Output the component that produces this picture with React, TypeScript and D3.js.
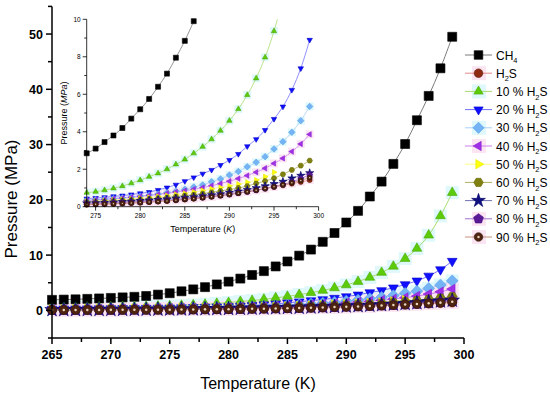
import React from 'react';
import * as d3 from 'd3';

// hydrate equilibrium data
const TEMPS = [265, 266, 267, 268, 269, 270, 271, 272, 273, 274, 275, 276, 277, 278, 279, 280, 281, 282, 283, 284,
  285, 286, 287, 288, 289, 290, 291, 292, 293, 294, 295, 296, 297, 298, 299];

const P_CH4 = [1.90, 1.95, 2.00, 2.08, 2.16, 2.25, 2.35, 2.45, 2.60, 2.85, 3.10, 3.45, 3.80, 4.20, 4.70, 5.20, 5.75, 6.40, 7.10, 7.95,
  8.85, 9.90, 11.0, 12.4, 14.0, 15.9, 18.0, 20.6, 23.3, 26.5, 30.1, 34.4, 38.8, 43.8, 49.5];
const P_H2S = [0.05, 0.05, 0.06, 0.06, 0.07, 0.07, 0.08, 0.09, 0.10, 0.10, 0.12, 0.13, 0.15, 0.17, 0.19, 0.21, 0.24, 0.27, 0.30, 0.34,
  0.38, 0.43, 0.48, 0.54, 0.60, 0.66, 0.73, 0.80, 0.88, 0.96, 1.05, 1.14, 1.23, 1.32, 1.42];
const P_10 = [0.45, 0.48, 0.51, 0.54, 0.57, 0.60, 0.64, 0.67, 0.71, 0.75, 0.80, 0.88, 0.98, 1.10, 1.25, 1.42, 1.60, 1.78, 2.00, 2.26,
  2.52, 2.85, 3.20, 3.60, 4.06, 4.59, 5.21, 5.96, 6.85, 7.97, 9.37, 11.2, 13.6, 17.1, 21.3];
const P_20 = [0.25, 0.27, 0.28, 0.30, 0.32, 0.34, 0.36, 0.38, 0.40, 0.43, 0.46, 0.50, 0.55, 0.59, 0.65, 0.71, 0.78, 0.89, 1.02, 1.17,
  1.36, 1.56, 1.76, 1.96, 2.22, 2.49, 2.81, 3.22, 3.60, 4.09, 4.68, 5.34, 6.23, 7.38, 8.90];
const P_30 = [0.20, 0.21, 0.22, 0.24, 0.25, 0.27, 0.29, 0.31, 0.33, 0.35, 0.38, 0.41, 0.44, 0.48, 0.52, 0.57, 0.62, 0.68, 0.75, 0.83,
  0.93, 1.05, 1.16, 1.33, 1.48, 1.69, 1.88, 2.13, 2.37, 2.67, 3.08, 3.47, 3.97, 4.59, 5.35];
const P_40 = [0.18, 0.19, 0.20, 0.21, 0.23, 0.24, 0.26, 0.28, 0.30, 0.33, 0.36, 0.39, 0.42, 0.46, 0.50, 0.55, 0.60, 0.65, 0.71, 0.78,
  0.85, 0.93, 1.02, 1.12, 1.23, 1.36, 1.50, 1.66, 1.84, 2.05, 2.31, 2.58, 2.94, 3.35, 3.86];
const P_50 = [0.15, 0.16, 0.17, 0.18, 0.19, 0.20, 0.22, 0.23, 0.25, 0.27, 0.29, 0.32, 0.35, 0.38, 0.41, 0.45, 0.49, 0.54, 0.59, 0.65,
  0.71, 0.78, 0.86, 0.95, 1.02, 1.10, 1.20, 1.30, 1.42, 1.60, 1.84];
const P_60 = [0.12, 0.13, 0.14, 0.15, 0.16, 0.17, 0.18, 0.20, 0.21, 0.23, 0.25, 0.27, 0.29, 0.32, 0.35, 0.38, 0.41, 0.45, 0.49, 0.54,
  0.59, 0.64, 0.70, 0.77, 0.84, 0.92, 1.00, 1.10, 1.24, 1.37, 1.52, 1.73, 1.96, 2.19, 2.46];
const P_70 = [0.10, 0.11, 0.11, 0.12, 0.13, 0.14, 0.15, 0.16, 0.17, 0.19, 0.20, 0.22, 0.24, 0.26, 0.28, 0.31, 0.34, 0.37, 0.40, 0.44,
  0.48, 0.52, 0.57, 0.62, 0.68, 0.75, 0.82, 0.90, 1.00, 1.10, 1.22, 1.34, 1.52, 1.66, 1.80];
const P_80 = [0.08, 0.09, 0.09, 0.10, 0.11, 0.11, 0.12, 0.13, 0.14, 0.15, 0.17, 0.18, 0.20, 0.22, 0.24, 0.26, 0.29, 0.32, 0.35, 0.38,
  0.42, 0.46, 0.50, 0.55, 0.60, 0.66, 0.73, 0.80, 0.88, 0.97, 1.07, 1.18, 1.32, 1.50, 1.70];
const P_90 = [0.06, 0.07, 0.07, 0.08, 0.08, 0.09, 0.10, 0.10, 0.11, 0.12, 0.13, 0.15, 0.16, 0.18, 0.20, 0.22, 0.25, 0.28, 0.31, 0.35,
  0.39, 0.43, 0.48, 0.53, 0.59, 0.65, 0.72, 0.80, 0.88, 0.97, 1.07, 1.17, 1.28, 1.40, 1.55];

const SERIES_KEYS = ['ch4', 'h2s', 'p10', 'p20', 'p30', 'p40', 'p50', 'p60', 'p70', 'p80', 'p90'];
const SERIES_VALUES = [P_CH4, P_H2S, P_10, P_20, P_30, P_40, P_50, P_60, P_70, P_80, P_90];
// [prefix, subscript, suffix]
const LEGEND_LABELS = [['CH', '4', ''], ['H', '2', 'S'], ['10 % H', '2', 'S'], ['20 % H', '2', 'S'], ['30 % H', '2', 'S'],
  ['40 % H', '2', 'S'], ['50 % H', '2', 'S'], ['60 % H', '2', 'S'], ['70 % H', '2', 'S'], ['80 % H', '2', 'S'], ['90 % H', '2', 'S']];

const X_TICKS = [265, 270, 275, 280, 285, 290, 295, 300];
const Y_TICKS = [0, 10, 20, 30, 40, 50];
const IX_TICKS = [275, 280, 285, 290, 295, 300];
const IY_TICKS = [0, 2, 4, 6, 8, 10];

const PINK = '#fbe5f2', CYAN = '#def8fb';
const STYLE: any = {
  ch4: { shape: 'square', fill: '#000', stroke: '#000', line: '#7a7a7a' },
  h2s: { shape: 'circle', fill: '#8e2a12', stroke: '#5e1a08', line: '#e48a8a', halo: PINK },
  p10: { shape: 'up', fill: '#5ccc0a', stroke: '#4aa808', line: '#a8dc70', halo: CYAN },
  p20: { shape: 'down', fill: '#1010ff', stroke: '#0000cc', line: '#7070ff' },
  p30: { shape: 'diamond', fill: '#74b4f4', stroke: '#5aa0e8', line: '#a8d0f8', halo: CYAN },
  p40: { shape: 'left', fill: '#a030e8', stroke: '#8a20d0', line: '#d080f0', halo: PINK },
  p50: { shape: 'right', fill: '#ffff10', stroke: '#e8e800', line: '#ffff80' },
  p60: { shape: 'hex', fill: '#808010', stroke: '#666600', line: '#b0b060' },
  p70: { shape: 'star', fill: '#101080', stroke: '#000066', line: '#7070b0' },
  p80: { shape: 'pent', fill: '#5a1a98', stroke: '#4a0a80', line: '#a070d0', halo: PINK },
  p90: { shape: 'ball', fill: '#4e2410', stroke: '#2e1406', line: '#c89080', halo: PINK },
};

const W = 550, H = 393;
const x = d3.scaleLinear().domain([265, 300]).range([52, 464]);
const y = d3.scaleLinear().domain([-5, 55]).range([338, 6.4]);
const ix = d3.scaleLinear().domain([274, 300]).range([86.7, 318.6]);
const iy = d3.scaleLinear().domain([0, 10]).range([206.7, 19.3]);

function polygon(n: number, r: number, rot: number) {
  const pts = d3.range(n).map(i => {
    const a = rot + (i * 2 * Math.PI) / n;
    return [r * Math.cos(a), r * Math.sin(a)];
  });
  return 'M' + pts.map(p => p[0].toFixed(2) + ',' + p[1].toFixed(2)).join('L') + 'Z';
}

function shapePath(shape: string, r: number) {
  switch (shape) {
    case 'square': return `M${-r},${-r}h${2 * r}v${2 * r}h${-2 * r}Z`;
    case 'circle':
    case 'ball': return d3.symbol(d3.symbolCircle, Math.PI * r * r)()!;
    case 'up': return polygon(3, r * 1.25, -Math.PI / 2);
    case 'down': return polygon(3, r * 1.25, Math.PI / 2);
    case 'left': return polygon(3, r * 1.25, Math.PI);
    case 'right': return polygon(3, r * 1.25, 0);
    case 'diamond': return polygon(4, r * 1.3, -Math.PI / 2);
    case 'hex': return polygon(6, r * 1.1, 0);
    case 'pent': return polygon(5, r * 1.2, -Math.PI / 2);
    case 'star': return d3.symbol(d3.symbolStar, r * r * 3.2)()!;
  }
  return '';
}

function Marker({ k, cx, cy, r }: any) {
  const s = STYLE[k];
  return (
    <g transform={`translate(${cx},${cy})`}>
      <path d={shapePath(s.shape, r)} fill={s.fill} stroke={s.stroke} strokeWidth={0.6} />
      {s.shape === 'ball' && <circle r={r * 0.28} cx={0} cy={0} fill="#e8d4bc" />}
    </g>
  );
}

function points(vals: number[], xMin: number, yMax: number) {
  return vals.map((v, i) => [TEMPS[i], v]).filter(p => p[0] >= xMin && p[1] <= yMax);
}

function Panel({ xs, ys, xMin, yMax, r, halo, clipId, lw }: any) {
  const line = d3.line<number[]>().x(d => xs(d[0])).y(d => ys(d[1])).curve(d3.curveCatmullRom);
  const all = SERIES_VALUES.map(vals => vals.map((v, i) => [TEMPS[i], v]).filter(p => p[0] >= xMin));
  return (
    <g>
      <g clipPath={`url(#${clipId})`}>
        {SERIES_KEYS.map((k, si) => STYLE[k].halo ? points(SERIES_VALUES[si], xMin, yMax).map((p, i) => (
          <rect key={k + 'h' + i} x={xs(p[0]) - halo / 2} y={ys(p[1]) - halo / 2} width={halo} height={halo} fill={STYLE[k].halo} />
        )) : null)}
        {SERIES_KEYS.map((k, si) => (
          <path key={k + 'l'} d={line(all[si] as any) || ''} fill="none" stroke={STYLE[k].line} strokeWidth={lw} />
        ))}
      </g>
      {SERIES_KEYS.map((k, si) => points(SERIES_VALUES[si], xMin, yMax).map((p, i) => (
        <Marker key={k + 'm' + i} k={k} cx={xs(p[0])} cy={ys(p[1])} r={r} />
      )))}
    </g>
  );
}

function Sub({ parts, size }: any) {
  return (
    <>
      <tspan>{parts[0]}</tspan>
      <tspan dy={size * 0.3} fontSize={size * 0.62}>{parts[1]}</tspan>
      {parts[2] && <tspan dy={-size * 0.3}>{parts[2]}</tspan>}
    </>
  );
}

export default function App() {
  const font = '"Liberation Sans", Arial, sans-serif';
  const x0 = x.range()[0], x1 = x.range()[1];
  const y0 = y.range()[0], y1 = y.range()[1];
  const ix0 = ix.range()[0], ix1 = ix.range()[1];
  const iy0 = iy.range()[0], iy1 = iy.range()[1];
  const minorX = X_TICKS.slice(0, -1).map(t => t + 2.5);
  const minorY = [-5, 5, 15, 25, 35, 45, 55];
  const iMinorX = [277.5, 282.5, 287.5, 292.5, 297.5];
  const iMinorY = [1, 3, 5, 7, 9];
  return (
    <svg width={W} height={H} style={{ position: 'absolute', left: 0, top: 0, background: '#fff' }} fontFamily={font}>
      <defs>
        <clipPath id="mainclip"><rect x={x0} y={y1} width={x1 - x0 + 6} height={y0 - y1} /></clipPath>
        <clipPath id="insetclip"><rect x={ix0} y={iy1} width={ix1 - ix0} height={iy0 - iy1} /></clipPath>
      </defs>

      {/* main plot */}
      <Panel xs={x} ys={y} xMin={265} yMax={55} r={4.5} halo={13} clipId="mainclip" lw={1} />
      <g stroke="#000" strokeWidth={1.5} fill="none">
        <line x1={x0} x2={x0} y1={y1} y2={y0} />
        <line x1={x0} x2={x1} y1={y0} y2={y0} />
        {X_TICKS.map(t => <line key={'xt' + t} x1={x(t)} x2={x(t)} y1={y0} y2={y0 + 6} />)}
        {minorX.map(t => <line key={'xm' + t} x1={x(t)} x2={x(t)} y1={y0} y2={y0 + 4} />)}
        {Y_TICKS.map(t => <line key={'yt' + t} x1={x0 - 6} x2={x0} y1={y(t)} y2={y(t)} />)}
        {minorY.map(t => <line key={'ym' + t} x1={x0 - 4} x2={x0} y1={y(t)} y2={y(t)} />)}
      </g>
      {X_TICKS.map(t => (
        <text key={'xl' + t} x={x(t)} y={y0 + 21} textAnchor="middle" fontSize={12.5} fontWeight="bold">{t}</text>
      ))}
      {Y_TICKS.map(t => (
        <text key={'yl' + t} x={x0 - 9} y={y(t) + 4.5} textAnchor="end" fontSize={12.5} fontWeight="bold">{t}</text>
      ))}
      <text x={(x0 + x1) / 2} y={389} textAnchor="middle" fontSize={16}>Temperature (K)</text>
      <text transform={`translate(17,${199}) rotate(-90)`} textAnchor="middle" fontSize={17}>Pressure (MPa)</text>

      {/* inset */}
      <Panel xs={ix} ys={iy} xMin={274} yMax={10} r={2.5} halo={8} clipId="insetclip" lw={0.8} />
      <g stroke="#000" strokeWidth={0.8} fill="none">
        <line x1={ix0} x2={ix0} y1={iy1} y2={iy0} />
        <line x1={ix0} x2={ix1} y1={iy0} y2={iy0} />
        {IX_TICKS.map(t => <line key={'ixt' + t} x1={ix(t)} x2={ix(t)} y1={iy0} y2={iy0 + 4} />)}
        {iMinorX.map(t => <line key={'ixm' + t} x1={ix(t)} x2={ix(t)} y1={iy0} y2={iy0 + 2.5} />)}
        {IY_TICKS.map(t => <line key={'iyt' + t} x1={ix0 - 4} x2={ix0} y1={iy(t)} y2={iy(t)} />)}
        {iMinorY.map(t => <line key={'iym' + t} x1={ix0 - 2.5} x2={ix0} y1={iy(t)} y2={iy(t)} />)}
      </g>
      {IX_TICKS.map(t => (
        <text key={'ixl' + t} x={ix(t)} y={iy0 + 11} textAnchor="middle" fontSize={6.5}>{t}</text>
      ))}
      {IY_TICKS.map(t => (
        <text key={'iyl' + t} x={ix0 - 6} y={iy(t) + 2.3} textAnchor="end" fontSize={6.5}>{t}</text>
      ))}
      <text x={(ix0 + ix1) / 2} y={232} textAnchor="middle" fontSize={9}>
        Temperature (<tspan fontStyle="italic">K</tspan>)
      </text>
      <text transform={`translate(67,${(iy0 + iy1) / 2}) rotate(-90)`} textAnchor="middle" fontSize={9}>
        Pressure (<tspan fontStyle="italic">MPa</tspan>)
      </text>

      {/* legend */}
      {SERIES_KEYS.map((k, i) => {
        const ly = 55 + i * 18.2;
        const s = STYLE[k];
        return (
          <g key={'lg' + k}>
            {s.halo && <rect x={472} y={ly - 7} width={14} height={14} fill={s.halo} />}
            <line x1={465} x2={492} y1={ly} y2={ly} stroke={s.line} strokeWidth={1} />
            <Marker k={k} cx={478.5} cy={ly} r={4.3} />
            <text x={496} y={ly + 4.5} fontSize={12}><Sub parts={LEGEND_LABELS[i]} size={12} /></text>
          </g>
        );
      })}
    </svg>
  );
}
